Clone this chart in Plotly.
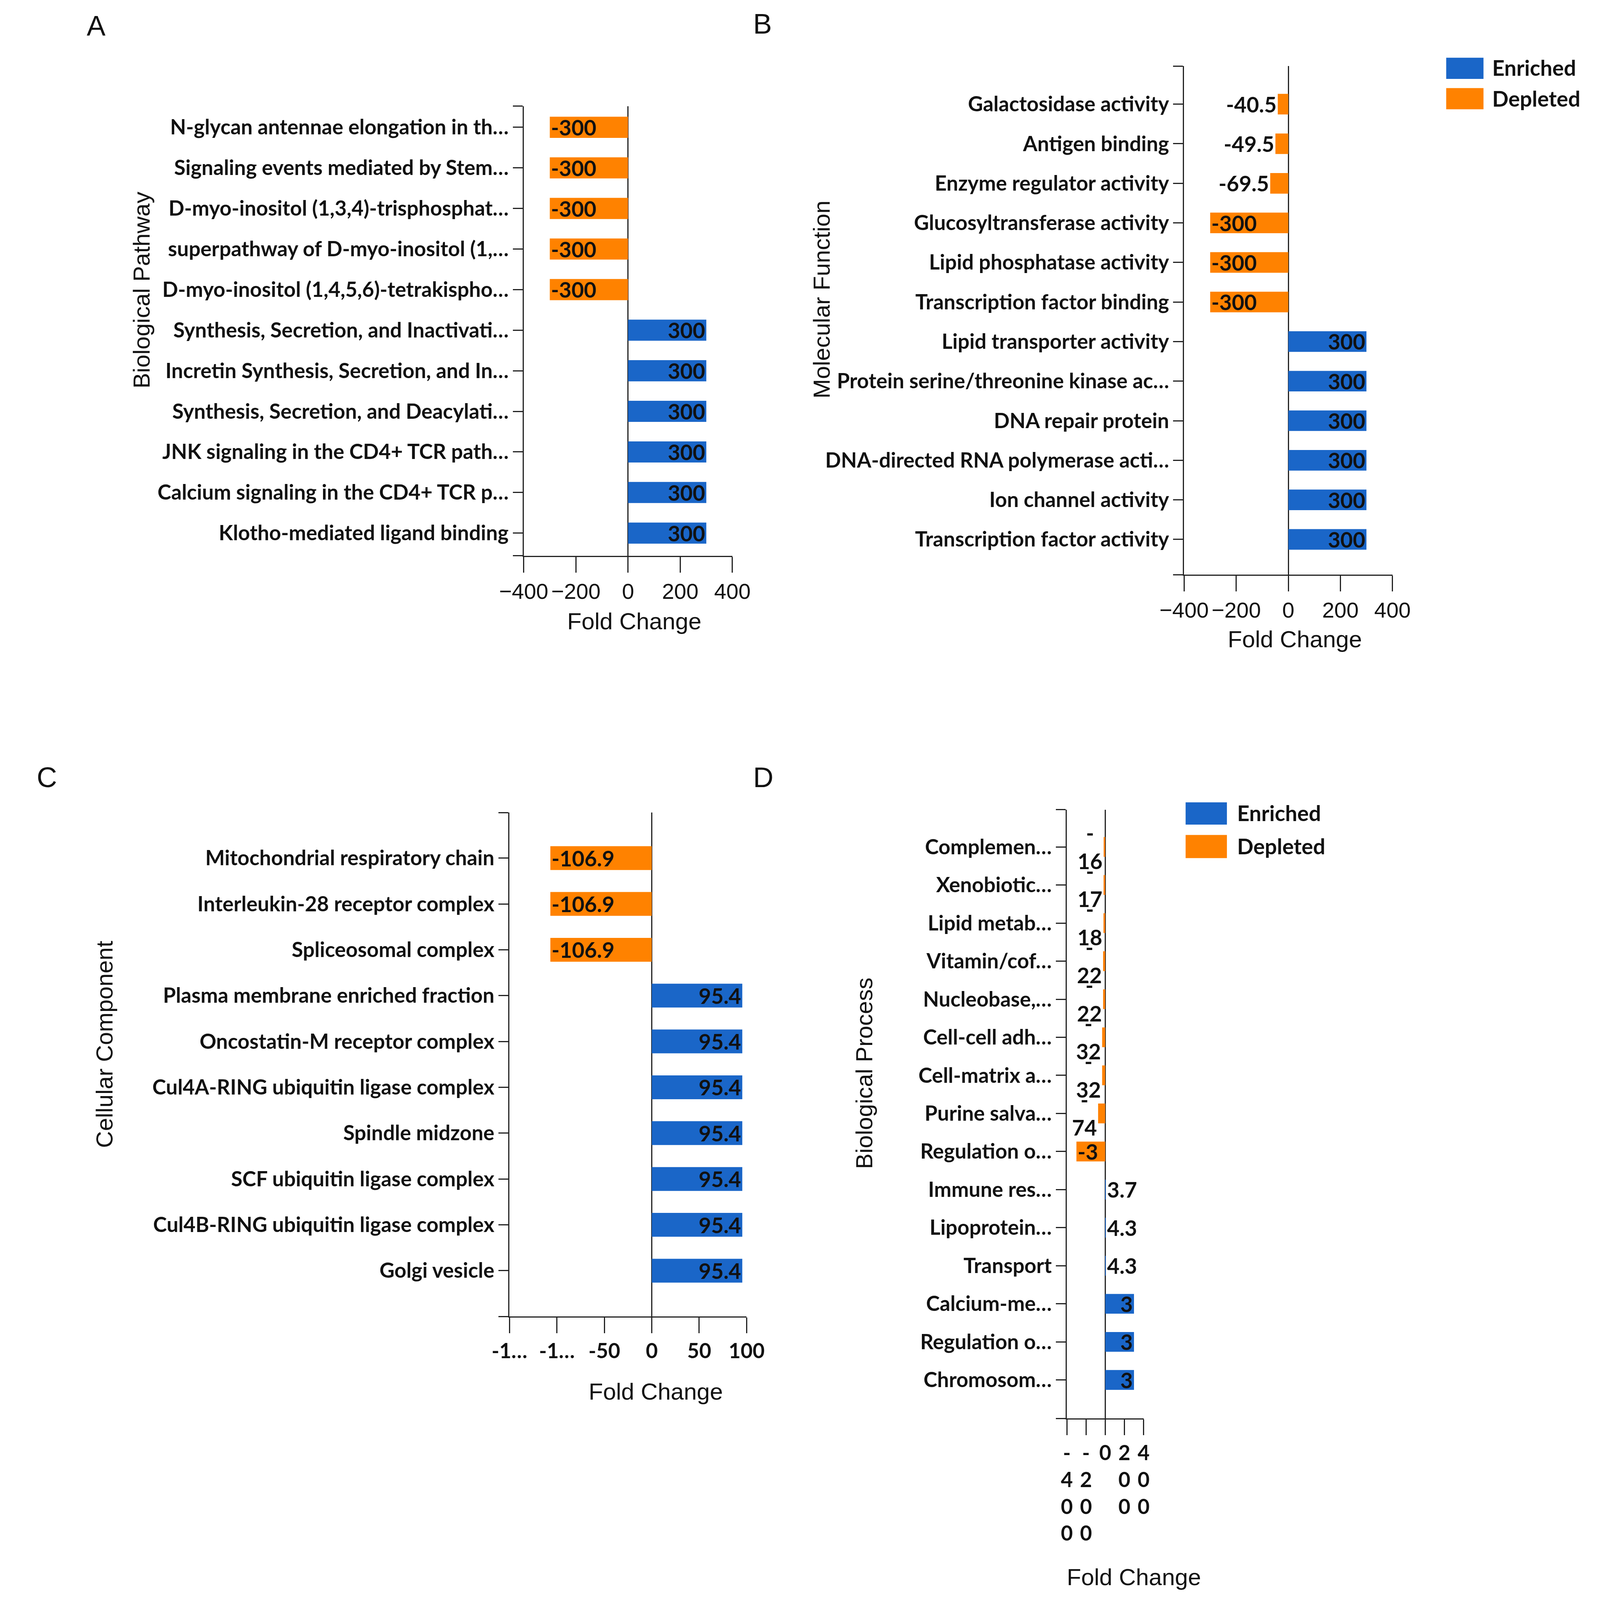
import plotly.graph_objects as go

W, H = 4259, 4160

ENRICHED = '#1a66c8'
DEPLETED = '#ff8200'
BOLD = 'Lato, Open Sans, sans-serif'
ARIAL = 'Liberation Sans, Arial, sans-serif'

# A - biological pathway
pathway_terms = [
    'N-glycan antennae elongation in th…',
    'Signaling events mediated by Stem…',
    'D-myo-inositol (1,3,4)-trisphosphat…',
    'superpathway of D-myo-inositol (1,…',
    'D-myo-inositol (1,4,5,6)-tetrakispho…',
    'Synthesis, Secretion, and Inactivati…',
    'Incretin Synthesis, Secretion, and In…',
    'Synthesis, Secretion, and Deacylati…',
    'JNK signaling in the CD4+ TCR path…',
    'Calcium signaling in the CD4+ TCR p…',
    'Klotho-mediated ligand binding',
]
pathway_fc = [-300, -300, -300, -300, -300, 300, 300, 300, 300, 300, 300]

# B - molecular function
function_terms = [
    'Galactosidase activity',
    'Antigen binding',
    'Enzyme regulator activity',
    'Glucosyltransferase activity',
    'Lipid phosphatase activity',
    'Transcription factor binding',
    'Lipid transporter activity',
    'Protein serine/threonine kinase ac…',
    'DNA repair protein',
    'DNA-directed RNA polymerase acti…',
    'Ion channel activity',
    'Transcription factor activity',
]
function_fc = [-40.5, -49.5, -69.5, -300, -300, -300, 300, 300, 300, 300, 300, 300]

# C - cellular component
component_terms = [
    'Mitochondrial respiratory chain',
    'Interleukin-28 receptor complex',
    'Spliceosomal complex',
    'Plasma membrane enriched fraction',
    'Oncostatin-M receptor complex',
    'Cul4A-RING ubiquitin ligase complex',
    'Spindle midzone',
    'SCF ubiquitin ligase complex',
    'Cul4B-RING ubiquitin ligase complex',
    'Golgi vesicle',
]
component_fc = [-106.9, -106.9, -106.9, 95.4, 95.4, 95.4, 95.4, 95.4, 95.4, 95.4]
component_ticks = [-150, -100, -50, 0, 50, 100]
component_ticktext = ['-1…', '-1…', '-50', '0', '50', '100']

# D - biological process
process_terms = [
    'Complemen…', 'Xenobiotic…', 'Lipid metab…', 'Vitamin/cof…',
    'Nucleobase,…', 'Cell-cell adh…', 'Cell-matrix a…', 'Purine salva…',
    'Regulation o…', 'Immune res…', 'Lipoprotein…', 'Transport',
    'Calcium-me…', 'Regulation o…', 'Chromosom…',
]
process_fc = [-16, -17, -18, -22, -22, -32, -32, -74, -300,
              3.7, 4.3, 4.3, 300, 300, 300]
process_labels = ['-<br>16', '-<br>17', '-<br>18', '-<br>22', '-<br>22',
                  '-<br>32', '-<br>32', '-<br>74', '-3',
                  '3.7', '4.3', '4.3', '3', '3', '3']
process_ticks = [-400, -200, 0, 200, 400]
process_ticktext = ['-<br>4<br>0<br>0', '-<br>2<br>0<br>0', '0',
                    '2<br>0<br>0', '4<br>0<br>0']

fold_ticks = [-400, -200, 0, 200, 400]

# the figure fills the page inside the 8px body margin
PAD = 8


def fx(p):
    return (p - PAD) / (W - 2 * PAD)


def fy(p):
    return 1 - (p - PAD) / (H - 2 * PAD)


fig = go.Figure()


def add_panel(n, terms, values, labels, xrange, box, pads, xticks, xticktext, xtickfont):
    xa = 'x' if n == 1 else 'x%d' % n
    ya = 'y' if n == 1 else 'y%d' % n
    span = xrange[1] - xrange[0]
    for name, color, keep in [('Enriched', ENRICHED, lambda v: v > 0),
                              ('Depleted', DEPLETED, lambda v: v < 0)]:
        idx = [i for i, v in enumerate(values) if keep(v)]
        fig.add_trace(go.Bar(
            x=[values[i] for i in idx], y=idx, orientation='h',
            name=name, marker=dict(color=color, line=dict(width=0)),
            text=[labels[i] for i in idx],
            textposition=['inside' if abs(values[i]) / span > 0.2 else 'outside' for i in idx],
            insidetextanchor='end', textangle=0, constraintext='none',
            textfont=dict(family=BOLD, size=55, color='#111', weight='bold'),
            cliponaxis=False, showlegend=False,
            xaxis=xa, yaxis=ya,
        ))
    x0, x1, y0, y1 = box
    top, bottom = -pads[0], len(terms) - 1 + pads[1]
    axis = dict(showline=True, linecolor='#222', linewidth=3, ticks='outside',
                tickcolor='#222', tickwidth=3, showgrid=False)
    fig.update_layout({
        ('xaxis' if n == 1 else 'xaxis%d' % n): dict(
            axis, domain=[fx(x0), fx(x1)], anchor=ya, range=xrange,
            tickvals=xticks, ticktext=xticktext, ticklen=40, tickangle=0,
            tickfont=xtickfont, zeroline=True, zerolinecolor='#222',
            zerolinewidth=3),
        # blank ticks at both ends give the little caps seen on the axes
        ('yaxis' if n == 1 else 'yaxis%d' % n): dict(
            axis, domain=[fy(y1), fy(y0)], anchor=xa, range=[bottom, top],
            tickvals=[top] + list(range(len(terms))) + [bottom],
            ticktext=[''] + terms + [''], ticklen=25,
            tickfont=dict(family=BOLD, size=53, color='#111', weight='bold'),
            zeroline=False),
    })


arial_ticks = dict(family=ARIAL, size=56, color='#111')
bold_ticks = dict(family=BOLD, size=53, color='#111', weight='bold')

add_panel(1, pathway_terms, pathway_fc, ['%g' % v for v in pathway_fc],
          [-400, 400], (1365, 1936, 276, 1445), (0.52, 0.56),
          fold_ticks, None, arial_ticks)
add_panel(2, function_terms, function_fc, ['%g' % v for v in function_fc],
          [-400, 400], (3172, 3742, 172, 1494), (0.96, 0.89),
          fold_ticks, None, arial_ticks)
add_panel(3, component_terms, component_fc, ['%g' % v for v in component_fc],
          [-150, 100], (1326, 1975, 2113, 3423), (0.99, 1.0),
          component_ticks, component_ticktext, bold_ticks)
add_panel(4, process_terms, process_fc, process_labels,
          [-400, 400], (2851, 3061, 2105, 3688), (0.98, 1.01),
          process_ticks, process_ticktext, bold_ticks)

annotations = []
for letter, x, y in [('A', 195, 67), ('B', 2018, 62), ('C', 60, 2021), ('D', 2021, 2021)]:
    annotations.append(dict(text=letter, x=fx(x), y=fy(y), xref='paper', yref='paper',
                            showarrow=False, xanchor='center', yanchor='middle',
                            font=dict(family=ARIAL, size=72, color='#111')))
for x, y in [(1668, 1615), (3475, 1662), (1727, 3618), (3035, 4101)]:
    annotations.append(dict(text='Fold Change', x=fx(x), y=fy(y), xref='paper', yref='paper',
                            showarrow=False, xanchor='center', yanchor='middle',
                            font=dict(family=ARIAL, size=60, color='#111')))
for title, x, y in [('Biological Pathway', 319, 754), ('Molecular Function', 2180, 779),
                    ('Cellular Component', 218, 2715), ('Biological Process', 2296, 2791)]:
    annotations.append(dict(text=title, x=fx(x), y=fy(y), xref='paper', yref='paper',
                            showarrow=False, textangle=-90, xanchor='center', yanchor='middle',
                            font=dict(family=ARIAL, size=60, color='#111')))

# legends drawn as boxes so the swatches can be as large as in the figure
shapes = []
for bx0, bx1, tx, rows in [
    (3889, 3991, 4013, [('Enriched', ENRICHED, 150, 205, 176), ('Depleted', DEPLETED, 229, 284, 256)]),
    (3176, 3289, 3315, [('Enriched', ENRICHED, 2086, 2144, 2114), ('Depleted', DEPLETED, 2171, 2231, 2200)]),
]:
    for name, color, ry0, ry1, ty in rows:
        shapes.append(dict(type='rect', xref='paper', yref='paper',
                           x0=fx(bx0), x1=fx(bx1), y0=fy(ry1), y1=fy(ry0),
                           fillcolor=color, line=dict(width=0)))
        annotations.append(dict(text=name, x=fx(tx), y=fy(ty), xref='paper', yref='paper',
                                showarrow=False, xanchor='left', yanchor='middle',
                                font=dict(family=BOLD, size=55, color='#111', weight='bold')))

fig.update_layout(
    autosize=True,
    margin=dict(l=0, r=0, t=0, b=0),
    paper_bgcolor='white', plot_bgcolor='white',
    barmode='overlay', bargap=0.48,
    showlegend=False,
    annotations=annotations, shapes=shapes,
)

# let the figure fill the browser viewport instead of overflowing it
fig.write_html('out.html', default_width='100%', default_height='calc(100vh - 16px)')
